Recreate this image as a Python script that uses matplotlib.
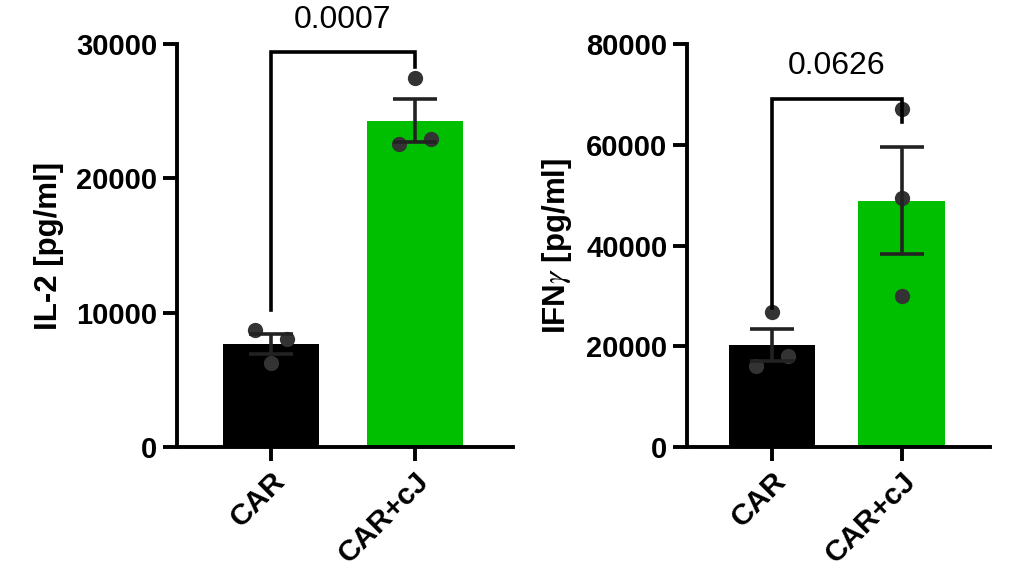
import numpy as np
import matplotlib
matplotlib.use("Agg")
import matplotlib.pyplot as plt

plt.rcParams['font.family'] = ['Liberation Sans', 'DejaVu Sans']
plt.rcParams['mathtext.fontset'] = 'stix'

grupos = ["CAR", "CAR+cJ"]
colores = ["#000000", "#00BF00"]

# IL-2
il2_media = [7700, 24300]
il2_sem = [745, 1590]
il2_puntos = [[8700, 8040, 6250], [27500, 22560, 22900]]
il2_p = "0.0007"

# IFNg
ifn_media = [20300, 48900]
ifn_sem = [3215, 10650]
ifn_puntos = [[26740, 18130, 16140], [67100, 49490, 30040]]
ifn_p = "0.0626"

fig = plt.figure(figsize=(10.23, 5.8), dpi=100)
ax1 = fig.add_axes([0.173, 0.229, 0.328, 0.695])
ax2 = fig.add_axes([0.6716, 0.229, 0.296, 0.695])


def panel(ax, medias, sems, puntos, p, ylabel, ymax, paso, desv, corchete, ptexto):
    x = np.arange(len(grupos))
    ax.bar(x, medias, width=0.67, color=colores, zorder=1)
    for i in range(len(grupos)):
        xs = x[i] + np.array(desv[i])
        ax.scatter(xs, puntos[i], s=11**2, color="#333333", zorder=3, linewidths=0)
    ax.errorbar(x, medias, yerr=sems, fmt="none", ecolor="#222222",
                elinewidth=2.6, capsize=16, capthick=2.6, zorder=4)
    # corchete de significancia
    ax.plot([0, 0, 1, 1], [corchete[0], corchete[1], corchete[1], corchete[2]],
            color="black", lw=2.6, clip_on=False, zorder=5, solid_joinstyle="miter")
    ax.text(0.5, ptexto, p, ha="center", va="bottom", fontsize=23, clip_on=False)

    ax.set_xlim(-0.655, 1.68)
    ax.set_ylim(0, ymax)
    ax.set_yticks(np.arange(0, ymax + 1, paso))
    ax.set_xticks(x)
    ax.set_xticklabels(grupos, rotation=45, ha="right", va="top",
                       rotation_mode="anchor", fontsize=21.5, fontweight="bold")
    for t in ax.get_yticklabels():
        t.set_fontsize(21)
        t.set_fontweight("bold")
    ax.set_ylabel(ylabel, fontsize=22.5, fontweight="bold", labelpad=9)
    ax.spines["top"].set_visible(False)
    ax.spines["right"].set_visible(False)
    ax.spines["left"].set_linewidth(2.8)
    ax.spines["bottom"].set_linewidth(2.8)
    ax.tick_params(width=2.8, length=10, pad=4)


panel(ax1, il2_media, il2_sem, il2_puntos, il2_p, "IL-2 [pg/ml]", 30000, 10000,
      [[-0.11, 0.11, 0.0], [0.0, -0.11, 0.11]], [10200, 29430, 28300], 30700)
panel(ax2, ifn_media, ifn_sem, ifn_puntos, ifn_p, "IFN$\\gamma$ [pg/ml]", 80000, 20000,
      [[0.0, 0.12, -0.12], [0.0, 0.0, 0.0]], [27600, 69080, 64580], 72600)

fig.savefig("out.png", dpi=100)
